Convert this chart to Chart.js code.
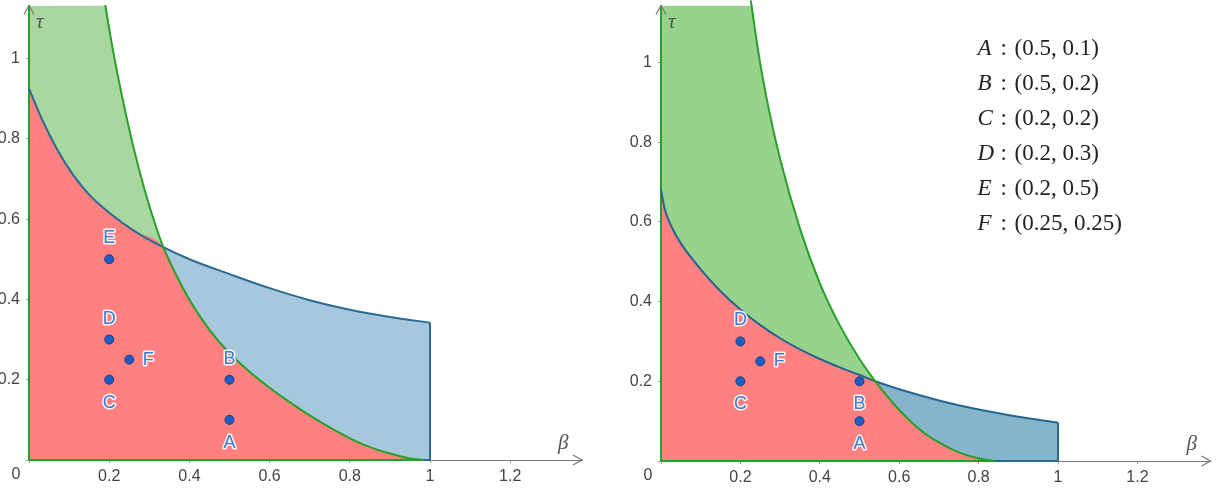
<!DOCTYPE html>
<html>
<head>
<meta charset="utf-8">
<script src="https://cdn.jsdelivr.net/npm/chart.js@4.4.0/dist/chart.umd.min.js"></script>
<style>
  html, body { margin: 0; padding: 0; background: #fff; }
  #wrap { position: relative; width: 1216px; height: 495px; }
  canvas { position: absolute; top: 0; }
  #left { left: 0; }
  #right { left: 608px; }
</style>
</head>
<body>
<div id="wrap">
  <canvas id="left" width="608" height="495"></canvas>
  <canvas id="right" width="608" height="495"></canvas>
</div>
<script>
// points shown in both panels (beta, tau)
const pointNames = ['A', 'B', 'C', 'D', 'E', 'F'];
const pointX = [0.5, 0.5, 0.2, 0.2, 0.2, 0.25];
const pointY = [0.1, 0.2, 0.2, 0.3, 0.5, 0.25];
const rightPointNames = ['A', 'B', 'C', 'D', 'F'];

// left panel, curves
const greenLeftX = [0.19, 0.21, 0.235, 0.262, 0.29, 0.315, 0.335, 0.36, 0.4, 0.45, 0.5, 0.55, 0.6, 0.65, 0.7, 0.75, 0.8, 0.85, 0.9, 0.95, 0.985];
const greenLeftY = [1.133, 1.017, 0.892, 0.773, 0.667, 0.586, 0.53, 0.475, 0.399, 0.324, 0.266, 0.22, 0.18, 0.144, 0.111, 0.081, 0.054, 0.032, 0.016, 0.004, 0];
const blueLeftX = [0, 0.035, 0.07, 0.11, 0.15, 0.2, 0.265, 0.335, 0.4, 0.5, 0.6, 0.7, 0.8, 0.9, 1.0];
const blueLeftY = [0.925, 0.843, 0.774, 0.71, 0.661, 0.616, 0.569, 0.53, 0.5, 0.463, 0.428, 0.398, 0.374, 0.356, 0.342];
const crossLeft = 0.335;

// right panel
const greenRightX = [0.226, 0.245, 0.265, 0.3, 0.35, 0.4, 0.45, 0.5, 0.54, 0.6, 0.65, 0.7, 0.75, 0.8, 0.84];
const greenRightY = [1.156, 1.027, 0.915, 0.758, 0.583, 0.446, 0.341, 0.256, 0.2, 0.128, 0.0805, 0.0465, 0.0215, 0.0065, 0];
const blueRightX = [0, 0.01, 0.025, 0.05, 0.1, 0.15, 0.2, 0.25, 0.3, 0.35, 0.4, 0.45, 0.5, 0.54, 0.6, 0.7, 0.8, 0.9, 1.0];
const blueRightY = [0.68, 0.63, 0.591, 0.546, 0.481, 0.426, 0.38, 0.341, 0.308, 0.28, 0.256, 0.235, 0.216, 0.2, 0.18, 0.152, 0.129, 0.111, 0.096];
const crossRight = 0.54;

const xTicks = [0.2, 0.4, 0.6, 0.8, 1, 1.2];
const yTicks = [0.2, 0.4, 0.6, 0.8, 1];

function xy(xs, ys) { return xs.map((x, i) => ({ x: x, y: ys[i] })); }

const decoPlugin = {
  id: 'deco',
  afterDatasetsDraw(chart, args, opts) {
    const { ctx, chartArea: a, scales: { x, y } } = chart;
    ctx.save();
    // axis arrows
    ctx.strokeStyle = '#777'; ctx.lineWidth = 1.2;
    ctx.beginPath();
    ctx.moveTo(a.right - 9, a.bottom - 5); ctx.lineTo(a.right, a.bottom); ctx.lineTo(a.right - 9, a.bottom + 5);
    ctx.moveTo(a.left - 5, a.top + 9); ctx.lineTo(a.left, a.top); ctx.lineTo(a.left + 5, a.top + 9);
    ctx.stroke();
    // origin label
    ctx.fillStyle = '#444';
    ctx.font = '16px "Liberation Sans", Arial, sans-serif';
    ctx.textAlign = 'center'; ctx.textBaseline = 'top';
    ctx.fillText('0', x.getPixelForValue(0) - 13, a.bottom + 7);
    // axis names
    ctx.fillStyle = '#555';
    ctx.font = 'italic 21px "Liberation Serif", serif';
    ctx.textAlign = 'left'; ctx.textBaseline = 'alphabetic';
    ctx.fillText('τ', a.left + 7, a.top + 22);
    ctx.fillText('β', a.right - 24, a.bottom - 11);
    // point labels
    ctx.font = '18px "Liberation Sans", Arial, sans-serif';
    ctx.textAlign = 'center'; ctx.textBaseline = 'middle';
    ctx.lineJoin = 'round';
    opts.names.forEach((n, i) => {
      const k = pointNames.indexOf(n);
      let px = x.getPixelForValue(pointX[k]);
      let py = y.getPixelForValue(pointY[k]);
      const pos = opts.labelPos[i];
      if (pos === 'above') py -= 21;
      else if (pos === 'below') py += 23;
      else px += 19;
      ctx.strokeStyle = 'rgba(255,255,255,0.9)'; ctx.lineWidth = 3;
      ctx.strokeText(n, px, py);
      ctx.fillStyle = '#3b78d6';
      ctx.fillText(n, px, py);
    });
    // coordinate list
    if (opts.legend) {
      ctx.fillStyle = '#222';
      ctx.textAlign = 'left'; ctx.textBaseline = 'middle';
      pointNames.forEach((n, i) => {
        const lx = a.right - 233, ly = a.top + 43 + i * 35;
        ctx.font = 'italic 23px "Liberation Serif", serif';
        ctx.fillText(n, lx, ly);
        ctx.font = '23px "Liberation Serif", serif';
        ctx.fillText(':', lx + 23, ly);
        ctx.fillText('(' + pointX[i] + ', ' + pointY[i] + ')', lx + 37, ly);
      });
    }
    ctx.restore();
  }
};

function makePanel(id, p) {
  const green = xy(p.greenX, p.greenY);
  const blue = xy(p.blueX, p.blueY);
  const lower = blue.filter(d => d.x <= p.cross).concat(green.filter(d => d.x > p.cross));
  const gEnd = green[green.length - 1], bEnd = blue[blue.length - 1];
  const pts = p.names.map(n => { const k = pointNames.indexOf(n); return { x: pointX[k], y: pointY[k] }; });
  const stroke = (data, color, smooth) => ({
    data: data, borderColor: color, borderWidth: 2, fill: false, pointRadius: 0,
    cubicInterpolationMode: smooth ? 'monotone' : 'default', order: 1, clip: 6
  });
  const area = (data, color, order) => ({
    data: data, fill: 'origin', backgroundColor: color, borderColor: 'transparent', borderWidth: 1,
    pointRadius: 0, cubicInterpolationMode: 'monotone', order: order
  });

  new Chart(document.getElementById(id), {
    type: 'line',
    data: {
      datasets: [
        { data: pts, showLine: false, pointRadius: 4.5, pointBackgroundColor: '#1f5cc4',
          pointBorderColor: '#163f85', pointBorderWidth: 1, order: 0, clip: false },
        stroke(green, '#26a026', true),
        stroke(blue, p.blueLine, true),
        stroke([{ x: 0, y: 0 }, { x: 0, y: p.yMax }], '#26a026'),
        stroke([{ x: 0, y: 0 }, { x: gEnd.x, y: 0 }], '#26a026'),
        stroke([{ x: gEnd.x, y: 0 }, { x: bEnd.x, y: 0 }], p.blueLine),
        stroke([{ x: bEnd.x, y: bEnd.y }, { x: bEnd.x, y: 0 }], p.blueLine),
        area(lower, '#ff8080', 2),
        area([{ x: 0, y: p.yMax }].concat(green), p.greenFill, 3),
        area(blue, p.blueFill, 4)
      ]
    },
    options: {
      responsive: false,
      animation: false,
      devicePixelRatio: 1,
      events: [],
      layout: { padding: { left: 0, right: p.padRight, top: 5, bottom: 0 } },
      plugins: {
        legend: { display: false },
        tooltip: { enabled: false },
        deco: { names: p.names, labelPos: p.labelPos, legend: p.legend }
      },
      scales: {
        x: {
          type: 'linear', min: 0, max: p.xMax,
          afterFit: s => { s.height = p.xHeight; s.paddingLeft = 0; s.paddingRight = 0; },
          afterBuildTicks: s => { s.ticks = [0].concat(xTicks).map(v => ({ value: v })); },
          grid: { drawOnChartArea: false, drawTicks: true, tickLength: 3, color: '#999' },
          border: { display: true, color: '#777', width: 1 },
          ticks: {
            padding: 4, color: '#444',
            font: { family: '"Liberation Sans", Arial, sans-serif', size: 16 },
            callback: v => (v === 0 ? '' : String(v))
          }
        },
        y: {
          type: 'linear', min: 0, max: p.yMax,
          afterFit: s => { s.width = p.yWidth; s.paddingTop = 0; s.paddingBottom = 0; },
          afterBuildTicks: s => { s.ticks = [0].concat(yTicks).map(v => ({ value: v })); },
          grid: { drawOnChartArea: false, drawTicks: true, tickLength: 3, color: '#999' },
          border: { display: true, color: '#777', width: 1 },
          ticks: {
            padding: 6, color: '#444',
            font: { family: '"Liberation Sans", Arial, sans-serif', size: 16 },
            callback: v => (v === 0 ? '' : String(v))
          }
        }
      }
    },
    plugins: [decoPlugin]
  });
}

makePanel('left', {
  greenX: greenLeftX, greenY: greenLeftY, blueX: blueLeftX, blueY: blueLeftY, cross: crossLeft,
  xMax: 1.379, yMax: 1.132, padRight: 26, xHeight: 35, yWidth: 29,
  greenFill: '#a8d8a0', blueFill: '#a7c8dc', blueLine: '#2b6a92',
  names: pointNames, labelPos: ['below', 'above', 'below', 'above', 'above', 'right'], legend: false
});

makePanel('right', {
  greenX: greenRightX, greenY: greenRightY, blueX: blueRightX, blueY: blueRightY, cross: crossRight,
  xMax: 1.384, yMax: 1.143, padRight: 4, xHeight: 34, yWidth: 53,
  greenFill: '#98d38e', blueFill: '#86b4cc', blueLine: '#24668f',
  names: rightPointNames, labelPos: ['below', 'below', 'below', 'above', 'right'], legend: true
});
</script>
</body>
</html>
